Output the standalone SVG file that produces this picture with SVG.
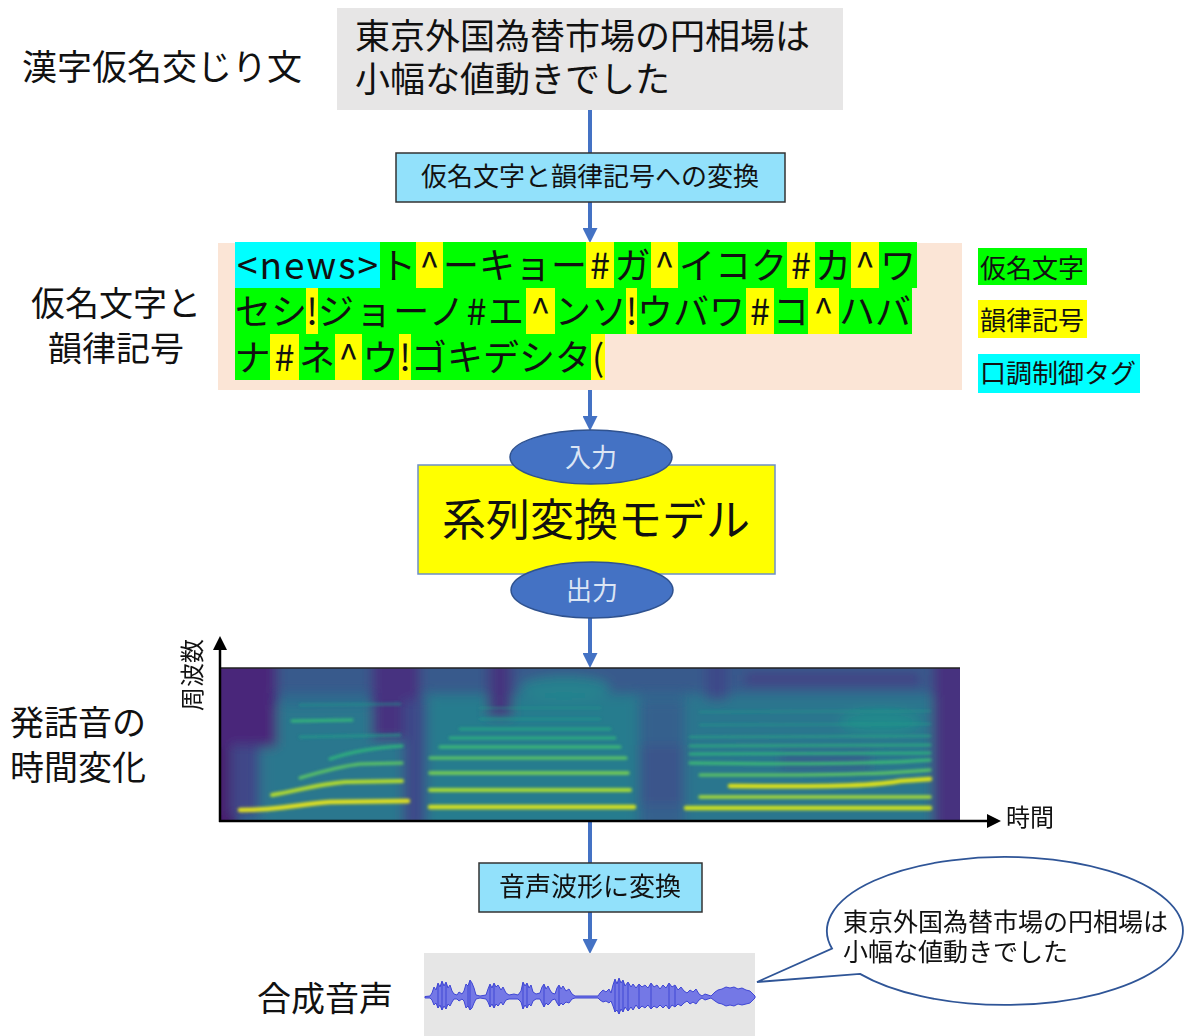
<svg xmlns="http://www.w3.org/2000/svg" width="1187" height="1036" viewBox="0 0 1187 1036">
<style>
text{font-family:"Noto Sans CJK JP","Noto Sans",sans-serif;fill:#111}
.lbl{font-size:34px}
.kn{font-size:36px}
.g{fill:#00ff00}
.y{fill:#ffff00}
.c{fill:#00ffff}
.conv{fill:#92e1fb;stroke:#333;stroke-width:1.5}
.conn{stroke:#4472c4;stroke-width:4;fill:none}
.oval{fill:#4472c4;stroke:#2f528f;stroke-width:1.5}
.ovt{font-size:26px;fill:#dbe5f4}
</style>
<defs>
<marker id="ah" viewBox="0 0 10 10" refX="0" refY="5" markerWidth="15" markerHeight="15" markerUnits="userSpaceOnUse" orient="auto"><path d="M0,0 L10,5 L0,10 z" fill="#4472c4"/></marker>
<marker id="ak" viewBox="0 0 10 10" refX="0" refY="5" markerWidth="14" markerHeight="14" markerUnits="userSpaceOnUse" orient="auto"><path d="M0,0 L10,5 L0,10 z" fill="#000"/></marker>
<clipPath id="specClip"><rect x="220" y="668" width="740" height="153"/></clipPath>
<filter id="b6" x="-20%" y="-20%" width="140%" height="140%"><feGaussianBlur stdDeviation="6"/></filter>
<filter id="b1" x="-5%" y="-50%" width="110%" height="200%"><feGaussianBlur stdDeviation="1.8"/></filter>
</defs>

<!-- left labels -->
<g id="label-kanji"><text class="lbl" x="22" y="80" style="font-size:35px">漢字仮名交じり文</text></g>
<g id="label-kana"><text class="lbl" x="116" y="316" text-anchor="middle">仮名文字と</text><text class="lbl" x="116" y="361" text-anchor="middle">韻律記号</text></g>
<g id="label-spec"><text class="lbl" x="10" y="735">発話音の</text><text class="lbl" x="10" y="780">時間変化</text></g>
<g id="label-synth"><text class="lbl" x="257" y="1011">合成音声</text></g>

<!-- connectors -->
<g id="connectors">
<line class="conn" x1="590" y1="110" x2="590" y2="153"/>
<line class="conn" x1="590" y1="202" x2="590" y2="228" marker-end="url(#ah)"/>
<line class="conn" x1="590" y1="390" x2="590" y2="416" marker-end="url(#ah)"/>
<line class="conn" x1="590" y1="618" x2="590" y2="653" marker-end="url(#ah)"/>
<line class="conn" x1="590" y1="822" x2="590" y2="863"/>
<line class="conn" x1="590" y1="912" x2="590" y2="939" marker-end="url(#ah)"/>
</g>

<!-- top sentence -->
<g id="node-sentence">
<rect x="337" y="8" width="506" height="102" fill="#e7e6e6"/>
<text x="355" y="49" style="font-size:35px">東京外国為替市場の円相場は</text>
<text x="355" y="92" style="font-size:35px">小幅な値動きでした</text>
</g>

<g id="node-conv1">
<rect class="conv" x="396" y="153" width="389" height="49"/>
<text x="590" y="186" text-anchor="middle" style="font-size:26px">仮名文字と韻律記号への変換</text>
</g>

<!-- kana + prosody -->
<g id="node-kana">
<rect x="218" y="243" width="744" height="147" fill="#fbe5d6"/>
<!-- row 1 -->
<rect class="c" x="235" y="242" width="145" height="46"/>
<rect class="g" x="380" y="242" width="537" height="46"/>
<rect class="y" x="416" y="242" width="27" height="46"/>
<rect class="y" x="586" y="242" width="28" height="46"/>
<rect class="y" x="651" y="242" width="27" height="46"/>
<rect class="y" x="787" y="242" width="28" height="46"/>
<rect class="y" x="851" y="242" width="28" height="46"/>
<text class="kn" x="237" y="279" textLength="141" lengthAdjust="spacing" style="font-size:37px">&lt;news&gt;</text>
<text class="kn" x="398" y="279" text-anchor="middle">ト</text>
<text class="kn" x="429.5" y="279" text-anchor="middle">^</text>
<text class="kn" x="443" y="279">ーキョー</text>
<text class="kn" x="600" y="279" text-anchor="middle">#</text>
<text class="kn" x="632.5" y="279" text-anchor="middle">ガ</text>
<text class="kn" x="664.5" y="279" text-anchor="middle">^</text>
<text class="kn" x="679" y="279">イコク</text>
<text class="kn" x="801" y="279" text-anchor="middle">#</text>
<text class="kn" x="833" y="279" text-anchor="middle">カ</text>
<text class="kn" x="865" y="279" text-anchor="middle">^</text>
<text class="kn" x="898" y="279" text-anchor="middle">ワ</text>
<!-- row 2 -->
<rect class="g" x="235" y="288" width="677" height="46"/>
<rect class="y" x="306" y="288" width="12" height="46"/>
<rect class="y" x="526" y="288" width="29" height="46"/>
<rect class="y" x="626" y="288" width="11" height="46"/>
<rect class="y" x="746" y="288" width="28" height="46"/>
<rect class="y" x="808" y="288" width="31" height="46"/>
<text class="kn" x="235" y="325">セシ</text>
<text class="kn" x="312" y="325" text-anchor="middle">!</text>
<text class="kn" x="318" y="325" textLength="206" lengthAdjust="spacing">ジョーノ#エ</text>
<text class="kn" x="540.5" y="325" text-anchor="middle">^</text>
<text class="kn" x="555" y="325">ンソ</text>
<text class="kn" x="631.5" y="325" text-anchor="middle">!</text>
<text class="kn" x="637" y="325">ウバワ</text>
<text class="kn" x="760" y="325" text-anchor="middle">#</text>
<text class="kn" x="791" y="325" text-anchor="middle">コ</text>
<text class="kn" x="823.5" y="325" text-anchor="middle">^</text>
<text class="kn" x="839" y="325">ハバ</text>
<!-- row 3 -->
<rect class="g" x="235" y="334" width="356" height="46"/>
<rect class="y" x="270" y="334" width="29" height="46"/>
<rect class="y" x="335" y="334" width="27" height="46"/>
<rect class="y" x="399" y="334" width="12" height="46"/>
<rect class="y" x="591" y="334" width="14" height="46"/>
<text class="kn" x="252.5" y="371" text-anchor="middle">ナ</text>
<text class="kn" x="284.5" y="371" text-anchor="middle">#</text>
<text class="kn" x="317" y="371" text-anchor="middle">ネ</text>
<text class="kn" x="348.5" y="371" text-anchor="middle">^</text>
<text class="kn" x="380.5" y="371" text-anchor="middle">ウ</text>
<text class="kn" x="405" y="371" text-anchor="middle">!</text>
<text class="kn" x="411" y="371">ゴキデシタ</text>
<text class="kn" x="598" y="371" text-anchor="middle">(</text>
</g>

<!-- legend -->
<g id="legend-kana"><rect class="g" x="978" y="248" width="109" height="37"/><text x="980" y="278" style="font-size:26px">仮名文字</text></g>
<g id="legend-prosody"><rect class="y" x="978" y="300" width="109" height="38"/><text x="980" y="330" style="font-size:26px">韻律記号</text></g>
<g id="legend-tag"><rect class="c" x="978" y="354" width="162" height="39"/><text x="980" y="383" style="font-size:26px">口調制御タグ</text></g>

<!-- model -->
<g id="node-model">
<rect x="418" y="465" width="357" height="109" fill="#ffff00" stroke="#6d8fc7" stroke-width="1.5"/>
<text x="596" y="536" text-anchor="middle" style="font-size:44px">系列変換モデル</text>
</g>
<g id="node-input"><ellipse class="oval" cx="591" cy="457" rx="81" ry="27"/><text class="ovt" x="591" y="467" text-anchor="middle">入力</text></g>
<g id="node-output"><ellipse class="oval" cx="592" cy="590" rx="81" ry="28"/><text class="ovt" x="592" y="600" text-anchor="middle">出力</text></g>

<!-- spectrogram -->
<g id="node-spectrogram">
<g clip-path="url(#specClip)">
<rect x="220" y="668" width="740" height="153" fill="#2e6a8e"/>
<g filter="url(#b6)">
<rect x="220" y="655" width="740" height="38" fill="#385a8c"/>
<rect x="262" y="705" width="148" height="125" fill="#2a778e"/>
<rect x="428" y="695" width="210" height="135" fill="#287c8e"/>
<rect x="685" y="695" width="250" height="135" fill="#29768e"/>
<rect x="640" y="700" width="44" height="130" fill="#34608d"/>
<rect x="205" y="655" width="32" height="180" fill="#461b6e"/>
<rect x="215" y="655" width="62" height="92" fill="#48287a"/>
<rect x="230" y="745" width="28" height="70" fill="#3f4788"/>
<rect x="372" y="655" width="48" height="85" fill="#473080"/>
<rect x="403" y="700" width="22" height="130" fill="#3e4a89"/>
<rect x="488" y="655" width="24" height="62" fill="#45347f"/>
<rect x="706" y="655" width="22" height="45" fill="#3e4a89"/>
<rect x="745" y="674" width="175" height="10" fill="#443a83"/>
<rect x="933" y="655" width="40" height="180" fill="#46337f"/>
<ellipse cx="565" cy="688" rx="45" ry="12" fill="#23898e" opacity="0.8"/>
<ellipse cx="880" cy="722" rx="40" ry="12" fill="#22928c" opacity="0.7"/>
<rect x="640" y="745" width="44" height="60" fill="#3a548b"/>
<rect x="780" y="752" width="90" height="18" fill="#34608d"/>
</g>
<g filter="url(#b1)" fill="none" stroke-linecap="round">
<path d="M240,810 C280,810 300,804 330,802 L408,801" stroke="#e3e21c" stroke-width="4.5"/>
<path d="M272,795 C300,790 320,784 345,782 L402,781" stroke="#b8de29" stroke-width="4"/>
<path d="M300,778 C320,772 340,766 360,764 L402,763" stroke="#5ec962" stroke-width="3"/>
<path d="M330,759 C350,752 370,748 402,746" stroke="#2fb47c" stroke-width="3"/>
<path d="M292,721 L352,720" stroke="#35b779" stroke-width="3"/>
<path d="M300,737 L400,735" stroke="#1f9e89" stroke-width="2.5" opacity="0.8"/>
<path d="M300,705 L400,704" stroke="#1f968b" stroke-width="2.5" opacity="0.6"/>
<path d="M430,807 L634,807" stroke="#d5e21a" stroke-width="4.5"/>
<path d="M430,790 L630,790" stroke="#a8db34" stroke-width="4"/>
<path d="M430,773 L628,773" stroke="#7ad151" stroke-width="3.5"/>
<path d="M430,758 L626,758" stroke="#5ec962" stroke-width="3"/>
<path d="M440,747 L620,747" stroke="#3dbc74" stroke-width="3"/>
<path d="M450,738 L615,738" stroke="#2fb47c" stroke-width="2.5"/>
<path d="M460,729 L610,729" stroke="#28ae80" stroke-width="2.5" opacity="0.8"/>
<path d="M480,719 L600,719" stroke="#1f9e89" stroke-width="2" opacity="0.7"/>
<path d="M480,708 L600,708" stroke="#1f9e89" stroke-width="2" opacity="0.5"/>
<path d="M686,808 L930,808" stroke="#cde11d" stroke-width="4.5"/>
<path d="M700,797 L930,797" stroke="#a8db34" stroke-width="3.5"/>
<path d="M730,786 C790,786 860,788 900,781 L930,779" stroke="#dfe318" stroke-width="4.5"/>
<path d="M700,775 C780,775 860,776 930,770" stroke="#5ec962" stroke-width="3"/>
<path d="M690,763 C760,764 860,765 930,760" stroke="#3dbc74" stroke-width="3"/>
<path d="M690,754 L930,753" stroke="#2fb47c" stroke-width="2.5"/>
<path d="M690,746 L930,745" stroke="#2fb47c" stroke-width="2.5" opacity="0.8"/>
<path d="M690,737 L930,736" stroke="#28ae80" stroke-width="2" opacity="0.7"/>
<path d="M700,725 L930,724" stroke="#1f9e89" stroke-width="2" opacity="0.6"/>
<path d="M700,712 L930,711" stroke="#1f9e89" stroke-width="2" opacity="0.5"/>
</g>
</g>
<line x1="220" y1="668" x2="960" y2="668" stroke="#222" stroke-width="1.5"/>
<line x1="220" y1="822" x2="220" y2="650" stroke="#000" stroke-width="2.5" marker-end="url(#ak)"/>
<line x1="219" y1="821" x2="987" y2="821" stroke="#000" stroke-width="2.5" marker-end="url(#ak)"/>
<text transform="translate(201,675) rotate(-90)" text-anchor="middle" style="font-size:24px">周波数</text>
<text x="1006" y="826" style="font-size:24px">時間</text>
</g>

<g id="node-conv2">
<rect class="conv" x="479" y="863" width="223" height="49"/>
<text x="590" y="896" text-anchor="middle" style="font-size:26px">音声波形に変換</text>
</g>

<!-- waveform -->
<g id="node-waveform">
<rect x="424" y="953" width="331" height="83" fill="#e6e6e6"/>
<line x1="425" y1="997" x2="755" y2="997" stroke="#5a60dc" stroke-width="1.5"/>
<polygon fill="#7478e6" stroke="#3f46d4" stroke-width="1" points="425,996.5 430,996 432,993 434,987 436,990 438,983 440,987 442,981 444,986 446,982 448,988 450,985 452,991 454,994 457,995 459,992 462,994 464,991 466,984 468,986 470,980 472,983 474,988 476,995 480,996 486,995 488,989 490,984 492,988 494,983 496,987 498,985 501,990 503,987 506,993 509,995 514,994 518,995 521,991 523,982 525,986 527,983 529,988 531,985 533,992 536,994 540,993 542,987 544,984 546,989 548,986 550,990 552,993 555,994 557,988 559,985 561,989 563,986 566,991 569,989 572,994 575,996 598,996 600,993 603,990 606,992 609,989 611,993 613,985 615,979 617,984 619,978 621,983 623,980 625,986 628,982 631,987 633,984 636,988 639,984 642,987 645,985 648,988 651,983 654,987 657,985 660,989 663,985 666,988 669,983 672,987 675,985 678,990 681,987 684,991 687,993 690,990 693,992 696,989 699,994 702,996 705,994 708,995 711,996 715,992 718,990 722,989 726,987 730,988 734,987 738,989 742,988 746,990 750,991 753,994 755,996 755,998 753,1000 750,1003 746,1004 742,1005 738,1004 734,1006 730,1005 726,1006 722,1004 718,1003 715,1001 711,998 708,999 705,1000 702,998 699,1000 696,1004 693,1002 690,1004 687,1001 684,1003 681,1006 678,1004 675,1007 672,1005 669,1009 666,1005 663,1008 660,1005 657,1008 654,1006 651,1009 648,1005 645,1008 642,1006 639,1009 636,1005 633,1010 631,1007 628,1011 625,1007 623,1012 621,1009 619,1014 617,1010 615,1012 613,1006 611,1001 609,1003 606,1001 603,1002 600,1000 598,998 575,998 572,999 569,1003 566,1002 563,1005 561,1003 559,1006 557,1003 555,999 552,1000 550,1003 548,1005 546,1003 544,1007 542,1003 540,999 536,999 533,1001 531,1006 529,1004 527,1008 525,1005 523,1009 521,1002 518,999 514,999 509,999 506,1000 503,1005 501,1002 498,1006 496,1004 494,1008 492,1004 490,1007 488,1002 486,999 480,998 476,999 474,1003 472,1008 470,1010 468,1006 466,1008 464,1001 462,999 459,1001 457,999 454,999 452,1002 450,1006 448,1004 446,1009 444,1006 442,1010 440,1005 438,1008 436,1003 434,1005 432,1000 430,998 425,998"/>
<path fill="none" stroke="#3f46d4" stroke-width="1" d="M438,984V1008M442,982V1010M446,983V1009M468,986V1007M470,981V1010M490,985V1007M494,984V1008M523,983V1009M527,984V1008M544,985V1007M559,986V1006M615,980V1012M619,979V1014M623,981V1012M628,983V1011M639,985V1009M651,984V1009M669,984V1009M675,986V1007"/>
</g>

<!-- speech bubble -->
<g id="node-bubble">
<path d="M832,948.5 A178,74 0 1 1 860,973.9 L757,982 Z" fill="#fff" stroke="#2f5597" stroke-width="1.8" stroke-linejoin="miter"/>
<text x="843" y="931" style="font-size:25px">東京外国為替市場の円相場は</text>
<text x="843" y="961" style="font-size:25px">小幅な値動きでした</text>
</g>
</svg>
